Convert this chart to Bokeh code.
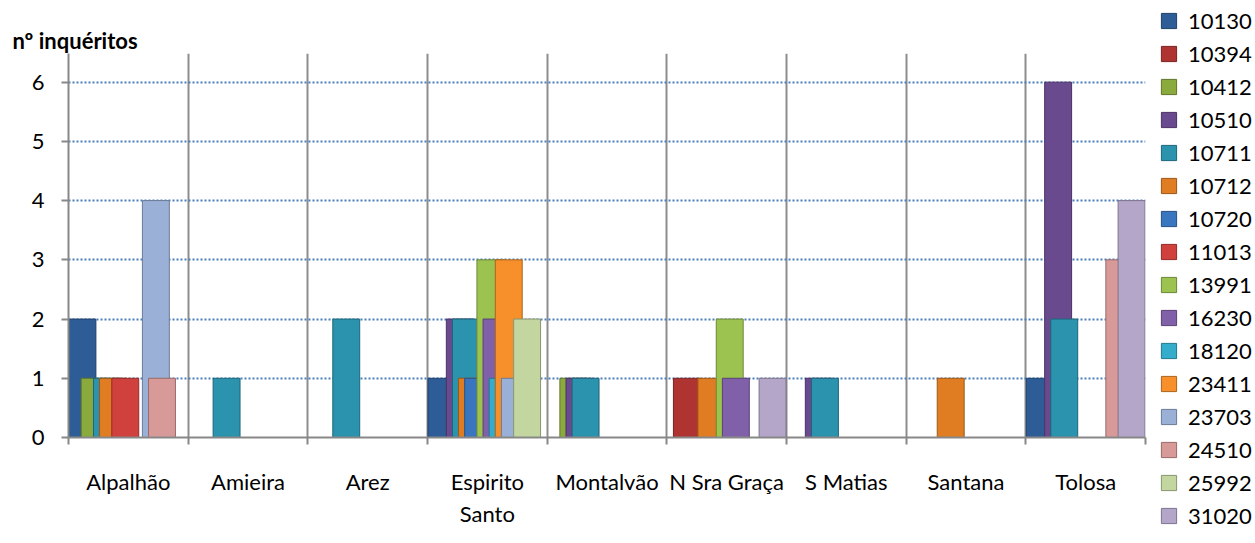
from bokeh.plotting import figure
from bokeh.layouts import row
from bokeh.models import FixedTicker, Legend, LegendItem, ColumnDataSource, Range1d
from bokeh.embed import file_html
from bokeh.resources import INLINE

categories = ["Alpalhão", "Amieira", "Arez", "Espirito\nSanto", "Montalvão",
              "N Sra Graça", "S Matias", "Santana", "Tolosa"]
series_names = ["10130", "10394", "10412", "10510", "10711", "10712", "10720", "11013",
                "13991", "16230", "18120", "23411", "23703", "24510", "25992", "31020"]
s10130 = [2, 0, 0, 1, 0, 0, 0, 0, 1]
s10394 = [0, 0, 0, 0, 0, 1, 0, 0, 0]
s10412 = [1, 0, 0, 0, 1, 0, 0, 0, 0]
s10510 = [0, 0, 0, 2, 1, 0, 1, 0, 6]
s10711 = [1, 1, 2, 2, 1, 0, 1, 0, 2]
s10712 = [1, 0, 0, 1, 0, 1, 0, 1, 0]
s10720 = [0, 0, 0, 1, 0, 0, 0, 0, 0]
s11013 = [1, 0, 0, 0, 0, 0, 0, 0, 0]
s13991 = [0, 0, 0, 3, 0, 2, 0, 0, 0]
s16230 = [0, 0, 0, 2, 0, 1, 0, 0, 0]
s18120 = [0, 0, 0, 1, 0, 0, 0, 0, 0]
s23411 = [0, 0, 0, 3, 0, 0, 0, 0, 0]
s23703 = [4, 0, 0, 1, 0, 0, 0, 0, 0]
s24510 = [1, 0, 0, 0, 0, 0, 0, 0, 3]
s25992 = [0, 0, 0, 2, 0, 0, 0, 0, 0]
s31020 = [0, 0, 0, 0, 0, 1, 0, 0, 4]
series_values = [s10130, s10394, s10412, s10510, s10711, s10712, s10720, s11013,
                 s13991, s16230, s18120, s23411, s23703, s24510, s25992, s31020]
colors = ["#2E5C96", "#AF3431", "#8AAA3E", "#6A4A8F", "#2B93AD", "#E07D22", "#3A75C0", "#D0403C",
          "#9CC250", "#8060A8", "#34ACCB", "#F78F2A", "#9AB0D6", "#D89A98", "#C3D6A0", "#B3A6C9"]

FONT = "Lato"


def darker(h, f=0.7):
    r, g, b = int(h[1:3], 16), int(h[3:5], 16), int(h[5:7], 16)
    return "#%02x%02x%02x" % (int(r * f), int(g * f), int(b * f))


n_cat = len(categories)
n_ser = len(series_names)
bar_w = 0.225
step = (1 - bar_w - 0.008) / (n_ser - 1)

p = figure(width=1150, height=543, output_backend="svg", toolbar_location=None,
           x_range=Range1d(0, n_cat), y_range=Range1d(0, 6.484),
           min_border_left=68, min_border_right=5, min_border_top=53, min_border_bottom=106)
p.outline_line_color = None
p.background_fill_color = "white"
p.border_fill_color = "white"

# legend-only figure on the right (its frame is not aligned with the chart's)
lg = figure(width=105, height=543, output_backend="svg", toolbar_location=None,
            x_range=Range1d(0, 1), y_range=Range1d(0, 1),
            x_axis_location=None, y_axis_location=None,
            min_border_left=0, min_border_right=0, min_border_top=0, min_border_bottom=0)
lg.frame_align = False
lg.outline_line_color = None
lg.grid.visible = False
lg.border_fill_color = "white"

items = []
for i, (name, vals, col) in enumerate(zip(series_names, series_values, colors)):
    xs = [k + 0.004 + i * step + bar_w / 2 for k, v in enumerate(vals) if v > 0]
    tops = [v for v in vals if v > 0]
    src = ColumnDataSource(dict(x=xs, top=tops))
    p.vbar(x="x", top="top", bottom=0, width=bar_w, source=src,
           fill_color=col, line_color=darker(col, 0.7), line_width=1)
    # off-range proxy so the legend can show the series swatch
    proxy = lg.vbar(x=[-5], top=[0], bottom=0, width=0.1,
                    fill_color=col, line_color=darker(col, 0.7), line_width=1)
    items.append(LegendItem(label=name, renderers=[proxy]))

# axes
p.xaxis.ticker = FixedTicker(ticks=[k + 0.5 for k in range(n_cat)],
                             minor_ticks=list(range(n_cat + 1)))
p.xaxis.major_label_overrides = {k + 0.5: c for k, c in enumerate(categories)}
p.xaxis.major_tick_line_color = None
p.xaxis.major_tick_out = 0
p.xaxis.minor_tick_out = 7
p.xaxis.minor_tick_in = 0
p.xaxis.minor_tick_line_color = "#888888"
p.xaxis.minor_tick_line_width = 2
p.xaxis.axis_line_color = "#888888"
p.xaxis.axis_line_width = 2
p.xaxis.major_label_text_font = FONT
p.xaxis.major_label_text_font_size = "22px"
p.xaxis.major_label_text_color = "#000000"
p.xaxis.major_label_standoff = 23

p.yaxis.ticker = FixedTicker(ticks=[0, 1, 2, 3, 4, 5, 6])
p.yaxis.minor_tick_line_color = None
p.yaxis.major_tick_out = 7
p.yaxis.major_tick_in = 0
p.yaxis.major_tick_line_color = "#888888"
p.yaxis.major_tick_line_width = 2
p.yaxis.axis_line_color = "#888888"
p.yaxis.axis_line_width = 2
p.yaxis.major_label_text_font = FONT
p.yaxis.major_label_text_font_size = "22px"
p.yaxis.major_label_text_color = "#000000"
p.yaxis.major_label_standoff = 17

# grids
p.xgrid.ticker = FixedTicker(ticks=list(range(n_cat + 1)))
p.xgrid.grid_line_color = "#8C8C8C"
p.xgrid.grid_line_width = 2
p.ygrid.ticker = FixedTicker(ticks=[1, 2, 3, 4, 5, 6])
p.ygrid.grid_line_color = "#4A7EBB"
p.ygrid.grid_line_width = 2
p.ygrid.grid_line_dash = "2 2"

# title
p.title.text = "nº inquéritos"
p.title.text_font = FONT
p.title.text_font_style = "bold"
p.title.text_font_size = "22px"
p.title.text_color = "#000000"
p.title.align = "left"
p.title.offset = -56
p.title.standoff = 0

legend = Legend(items=items, location=(9, 14), orientation="vertical",
                label_text_font=FONT, label_text_font_size="22px", label_text_color="#000000",
                glyph_width=19, glyph_height=19, label_standoff=10, spacing=6, label_height=26,
                padding=0, margin=0, border_line_color=None, background_fill_alpha=0)
lg.add_layout(legend, "center")

layout = row(p, lg, spacing=0)
open("out.html", "w").write(file_html(layout, INLINE))
